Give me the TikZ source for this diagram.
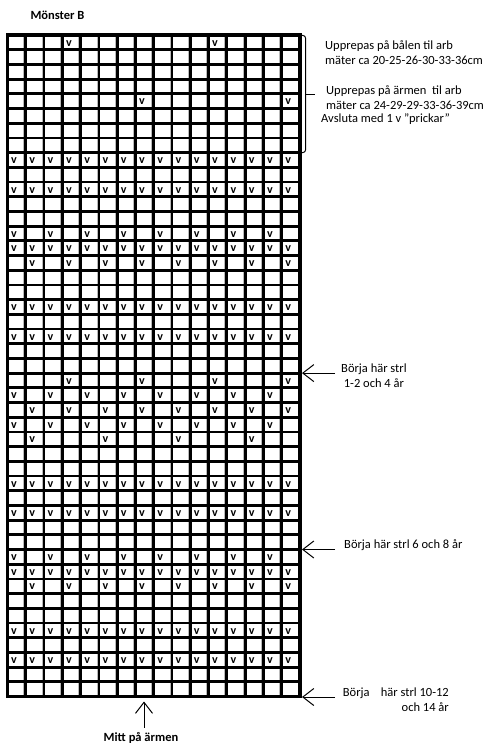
\documentclass[tikz,border=0pt]{standalone}
\usepackage{fontspec}
\setmainfont{Carlito}
\usetikzlibrary{arrows.meta}
\begin{document}
\begin{tikzpicture}[x=1bp,y=-1bp,
  lbl/.style={font=\fontsize{12.5bp}{15bp}\selectfont, inner sep=0pt},
  blbl/.style={font=\fontsize{12.5bp}{15bp}\selectfont\bfseries, inner sep=0pt},
  vmark/.style={font=\fontsize{12bp}{12bp}\selectfont\bfseries, inner sep=0pt},
  gridline/.style={line width=2.8bp, line cap=rect},
  shade/.style={gray!55, line width=1bp},
  arr/.style={line width=1bp, -{Straight Barb[length=11bp,width=17bp,line width=1bp]}},
  bracket/.style={line width=1bp, rounded corners=2.5bp}]
\useasboundingbox (0,0) rectangle (499,746);
\def\gx{7.5}\def\gw{18.28}\def\gy{35}\def\gh{14.7}
% light inner shading of cells
\foreach \i in {1,...,16}
  \draw[shade] ({\gx+\i*\gw-1.9},\gy) -- ({\gx+\i*\gw-1.9},696.5);
% grid lines
\foreach \i in {1,...,15}
  \draw[gridline] ({\gx+\i*\gw},\gy) -- ({\gx+\i*\gw},696.5);
\foreach \j in {1,...,44}
  \draw[gridline] (\gx,{\gy+\j*\gh}) -- (300,{\gy+\j*\gh});
\draw[line width=3.4bp] (\gx,\gy) rectangle (300,696.5);
% v marks
\foreach \r/\cols in {1/{4,12},5/{8,16},9/{1,...,16},11/{1,...,16},
    14/{1,3,...,15},15/{1,...,16},16/{2,4,...,16},19/{1,...,16},21/{1,...,16},
    24/{4,8,12,16},25/{1,3,...,15},26/{2,4,...,16},27/{1,3,...,15},28/{2,6,10,14},
    31/{1,...,16},33/{1,...,16},36/{1,3,...,15},37/{1,...,16},38/{2,4,...,16},
    41/{1,...,16},43/{1,...,16}}
  \foreach \c in \cols
    \node[vmark] (v-\r-\c) at ({\gx+(\c-1)*\gw+6.5},{\gy+(\r-0.5)*\gh+0.8}) {v};
% title
\node[blbl] (title) at (57.5,15) {Mönster B};
% bracket
\draw[bracket] (301,35.5) -- (305.5,35.5) -- (305.5,152.5) -- (301,152.5);
\coordinate (bm) at (305.5,94.5);
\coordinate (bt) at (315,94.5);
\draw[line width=1bp] (bm) -- (bt);
% right texts
\node[lbl, anchor=west, align=left] (rep1) at (325,52.5)
  {Upprepas på bålen til arb\\mäter ca 20-25-26-30-33-36cm};
\node[lbl, anchor=west, align=left] (rep2) at (326,97.5)
  {Upprepas på ärmen\ \ til arb\\mäter ca 24-29-29-33-36-39cm};
\node[lbl, anchor=west] (avs) at (321,119) {Avsluta med 1 v ”prickar”};
% start arrows
\node[lbl, anchor=west, align=center] (b1) at (341,375.5) {Börja här strl\\1-2 och 4 år};
\coordinate (s1) at (335,373.1);
\coordinate (t1) at (302,373.1);
\draw[arr] (s1) -- (t1);
\node[lbl, anchor=west] (b2) at (344,545.5) {Börja här strl 6 och 8 år};
\coordinate (s2) at (335,549.5);
\coordinate (t2) at (302,549.5);
\draw[arr] (s2) -- (t2);
\node[lbl, anchor=east, align=right] (b3) at (449,700) {Börja\ \ \ \ här strl 10-12\\och 14 år};
\coordinate (s3) at (335,697);
\coordinate (t3) at (302,697);
\draw[arr] (s3) -- (t3);
% bottom arrow
\node[blbl] (mitt) at (141,737.5) {Mitt på ärmen};
\coordinate (mt) at (144,701.5);
\draw[arr] (mitt.north -| mt) ++(0,-4) coordinate (ms) (ms) -- (mt);
\end{tikzpicture}
\end{document}
